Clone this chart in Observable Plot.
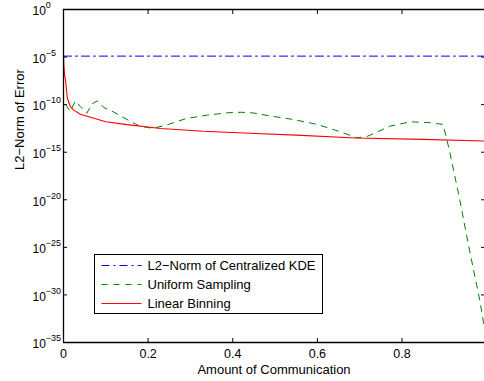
<!DOCTYPE html>
<html>
<head>
<meta charset="utf-8">
<script src="https://cdn.jsdelivr.net/npm/d3@7"></script>
<script src="https://cdn.jsdelivr.net/npm/@observablehq/plot@0.6"></script>
<style>
  html, body { margin: 0; padding: 0; background: #fff; }
  #chart { width: 484px; height: 381px; overflow: hidden; }
  svg { font-family: "Liberation Sans", Arial, Helvetica, sans-serif; }
</style>
</head>
<body>
<div id="chart"></div>
<script>
// ---- data (exponents of 10) ----
const seriesNames = ["L2\u2212Norm of Centralized KDE", "Uniform Sampling", "Linear Binning"];
const seriesColors = ["#0000ff", "#008000", "#ff0000"];
const seriesDash = ["8,4,2,4", "6,6", null];

const kdeX = [0, 1];
const kdeExp = [-4.9, -4.9];

const uniformX = [0.005, 0.016, 0.028, 0.04, 0.055, 0.068, 0.08, 0.095, 0.118, 0.15, 0.18, 0.212, 0.25, 0.29, 0.34, 0.394, 0.42, 0.448, 0.49, 0.543, 0.6, 0.654, 0.693, 0.717, 0.772, 0.82, 0.866, 0.897, 0.905, 0.913, 0.937, 0.96, 0.984, 0.995];
const uniformExp = [-10.0, -10.7, -9.6, -10.2, -10.9, -9.9, -9.6, -10.3, -10.76, -11.56, -12.26, -12.5, -12.05, -11.46, -11.1, -10.83, -10.8, -10.87, -11.2, -11.56, -12.08, -12.85, -13.48, -13.35, -12.26, -11.8, -11.9, -12.08, -13.48, -15.0, -20.1, -25.4, -30.6, -33.5];

const binningX = [0, 0.001, 0.003, 0.005, 0.009, 0.016, 0.025, 0.04, 0.07, 0.1, 0.15, 0.23, 0.33, 0.44, 0.55, 0.69, 0.85, 0.995];
const binningExp = [-4.9, -6.0, -7.0, -7.5, -9.3, -10.2, -10.6, -11.0, -11.4, -11.8, -12.1, -12.5, -12.8, -13.0, -13.2, -13.5, -13.65, -13.83];

const xTicks = [0, 0.2, 0.4, 0.6, 0.8];
const yTickExps = [0, -5, -10, -15, -20, -25, -30, -35];

const toRows = (xs, es) => xs.map((x, i) => ({x, y: Math.pow(10, es[i])}));
const kde = toRows(kdeX, kdeExp);
const uniform = toRows(uniformX, uniformExp);
const binning = toRows(binningX, binningExp);
const yTicks = yTickExps.map(e => Math.pow(10, e));

const minus = s => String(s).replace("-", "\u2212");
const MARK = "\u00A7"; // temporary marker for y tick labels

const plot = Plot.plot({
  width: 484,
  height: 381,
  marginLeft: 63,
  marginRight: 0,
  marginTop: 9,
  marginBottom: 39,
  style: {fontFamily: "'Liberation Sans', Arial, sans-serif", fontSize: "12px", background: "#fff", color: "#000"},
  x: {domain: [0, 0.995]},
  y: {type: "log", domain: [1e-35, 1]},
  marks: [
    Plot.line(kde, {x: "x", y: "y", stroke: seriesColors[0], strokeWidth: 1, strokeDasharray: seriesDash[0]}),
    Plot.line(uniform, {x: "x", y: "y", stroke: seriesColors[1], strokeWidth: 1, strokeDasharray: seriesDash[1]}),
    Plot.line(binning, {x: "x", y: "y", stroke: seriesColors[2], strokeWidth: 1.1}),
    // frame: left, top, bottom
    Plot.ruleX([0], {stroke: "#000", strokeWidth: 1.3}),
    Plot.ruleY([1], {stroke: "#000", strokeWidth: 1.3}),
    Plot.ruleY([1e-35], {stroke: "#000", strokeWidth: 1.3}),
    // x axes (inward ticks)
    Plot.axisX({anchor: "bottom", ticks: xTicks, tickSize: -4, tickPadding: 11, tickFormat: d => String(d), label: null, fontSize: 12.5}),
    Plot.axisX({anchor: "top", ticks: xTicks, tickSize: -4, tickFormat: () => "", label: null}),
    // y axes (inward ticks)
    Plot.axisY({anchor: "left", ticks: yTicks, tickSize: -4, tickFormat: () => "", label: null}),
    Plot.axisY({anchor: "right", ticks: yTicks, tickSize: -4, tickFormat: () => "", label: null}),
    // y tick labels as 10^exp
    Plot.text(yTickExps, {x: 0, y: e => Math.pow(10, e), text: e => MARK + minus(e), textAnchor: "start", dx: -31, dy: 2, fontSize: 12}),
    // axis titles
    Plot.text(["Amount of Communication"], {frameAnchor: "bottom", dy: 31, fontSize: 13}),
    Plot.text(["L2\u2212Norm of Error"], {frameAnchor: "left", dx: -44, dy: -6, rotate: -90, fontSize: 13})
  ]
});

document.getElementById("chart").appendChild(plot);

const svg = d3.select(plot);
// superscripts for y tick labels
svg.selectAll("text").each(function() {
  const s = this.textContent;
  if (!s.startsWith(MARK)) return;
  const exp = s.slice(1);
  const t = d3.select(this);
  t.text(null);
  t.append("tspan").text("10");
  t.append("tspan").attr("dy", "-7").attr("font-size", "9px").text(exp);
});

// legend box (inside plot area, lower-left)
const lx = 94.5, ly = 254.5, lw = 228, lh = 59;
const lg = svg.append("g").attr("aria-label", "legend");
lg.append("rect").attr("x", lx).attr("y", ly).attr("width", lw).attr("height", lh)
  .attr("fill", "#fff").attr("stroke", "#000").attr("stroke-width", 1);
seriesNames.forEach((name, i) => {
  const yy = ly + 11 + i * 19;
  lg.append("line").attr("x1", lx + 7).attr("x2", lx + 47).attr("y1", yy).attr("y2", yy)
    .attr("stroke", seriesColors[i]).attr("stroke-width", 1)
    .attr("stroke-dasharray", seriesDash[i]);
  lg.append("text").attr("x", lx + 53).attr("y", yy).attr("dy", "0.36em")
    .attr("text-anchor", "start")
    .attr("font-size", 13).attr("fill", "#000").text(name);
});
</script>
</body>
</html>
